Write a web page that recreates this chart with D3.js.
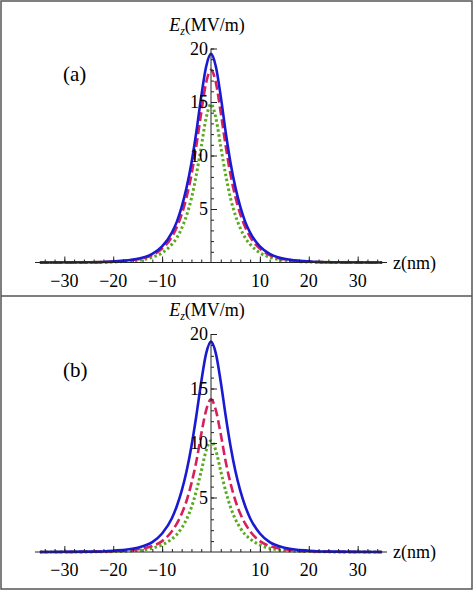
<!DOCTYPE html><html><head><meta charset="utf-8">
<script src="https://cdn.jsdelivr.net/npm/d3@7"></script>
<style>body{margin:0;background:#fff}svg text{font-family:'Liberation Serif','Times New Roman','DejaVu Serif',serif !important}</style></head><body>
<svg id="c" width="474" height="591" font-family="Liberation Serif, DejaVu Serif, serif"></svg>
<script>
const zVals = [-35,-25,-20,-15,-12,-10,-8,-7,-6,-5,-4,-3,-2,-1,0,1,2,3,4,5,6,7,8,10,12,15,20,25,35];
const aBlue  = [0,0.03,0.1,0.35,0.8,1.5,2.8,3.8,5.2,7.0,9.3,12.2,15.5,18.3,19.5,18.3,15.5,12.2,9.3,7.0,5.2,3.8,2.8,1.5,0.8,0.35,0.1,0.03,0];
const aRed   = [0,0.02,0.08,0.3,0.7,1.3,2.4,3.3,4.5,6.1,8.2,10.9,14.0,16.8,18.0,16.8,14.0,10.9,8.2,6.1,4.5,3.3,2.4,1.3,0.7,0.3,0.08,0.02,0];
const aGreen = [0,0.01,0.05,0.2,0.5,0.9,1.7,2.3,3.2,4.4,6.0,8.2,10.8,13.5,14.8,13.5,10.8,8.2,6.0,4.4,3.2,2.3,1.7,0.9,0.5,0.2,0.05,0.01,0];
const bBlue  = [0,0.03,0.12,0.4,0.9,1.7,3.1,4.2,5.6,7.4,9.7,12.5,15.6,18.2,19.3,18.2,15.6,12.5,9.7,7.4,5.6,4.2,3.1,1.7,0.9,0.4,0.12,0.03,0];
const bRed   = [0,0.02,0.07,0.25,0.55,1.0,1.9,2.6,3.5,4.7,6.3,8.3,10.8,13.0,14.0,13.0,10.8,8.3,6.3,4.7,3.5,2.6,1.9,1.0,0.55,0.25,0.07,0.02,0];
const bGreen = [0,0.01,0.04,0.15,0.35,0.65,1.2,1.6,2.2,3.0,4.1,5.6,7.4,9.3,10.2,9.3,7.4,5.6,4.1,3.0,2.2,1.6,1.2,0.65,0.35,0.15,0.04,0.01,0];
const xTicks = [-30,-20,-10,10,20,30];
const yTicks = [5,10,15,20];
const panels = [{label:"(a)", series:[aGreen,aRed,aBlue], top:0, zeroY:262.5, y20:48.5},
                {label:"(b)", series:[bGreen,bRed,bBlue], top:296, zeroY:552, y20:334}];
const styles = [{c:"#5aaa1e",d:"2.5,2.5",w:3},{c:"#d6205c",d:"9,4",w:2.6},{c:"#1a1ad2",d:null,w:2.6}];
const svg = d3.select("#c");
svg.append("rect").attr("x",1).attr("y",1).attr("width",471).attr("height",588).attr("fill","none").attr("stroke","#555").attr("stroke-width",1.5);
svg.append("line").attr("x1",1).attr("x2",472).attr("y1",296).attr("y2",296).attr("stroke","#555").attr("stroke-width",1.5);
const x = d3.scaleLinear().domain([-36,36]).range([35,387]);
panels.forEach(p=>{
  const y = d3.scaleLinear().domain([0,20]).range([p.zeroY,p.y20]);
  const g = svg.append("g");
  const line = d3.line().x((d,i)=>x(zVals[i])).y(d=>y(d)).curve(d3.curveMonotoneX);
  p.series.forEach((s,k)=>{
    g.append("path").attr("d",line(s)).attr("fill","none").attr("stroke",styles[k].c)
      .attr("stroke-width",styles[k].w).attr("stroke-dasharray",styles[k].d);
  });
  const xa = d3.axisTop(x).tickValues(d3.range(-34,35,2).filter(v=>v!==0)).tickSize(3).tickFormat("");
  g.append("g").attr("transform",`translate(0,${y(0)})`).call(xa).call(a=>{a.select(".domain").remove();a.selectAll("line").attr("stroke","#222");});
  const xb = d3.axisTop(x).tickValues(xTicks).tickSize(6).tickFormat("");
  g.append("g").attr("transform",`translate(0,${y(0)})`).call(xb).call(a=>{a.select(".domain").remove();a.selectAll("line").attr("stroke","#222");});
  g.append("line").attr("x1",35).attr("x2",387).attr("y1",y(0)).attr("y2",y(0)).attr("stroke","#222").attr("stroke-width",1);
  xTicks.forEach(t=>g.append("text").attr("x",x(t)).attr("y",y(0)+24).attr("text-anchor","middle").attr("font-size",18)
     .text(t<0?"\u2212"+(-t):t));
  g.append("text").attr("x",393).attr("y",y(0)+6).attr("font-size",18).text("z(nm)");
  const ya = d3.axisRight(y).tickValues(d3.range(1,21)).tickSize(3).tickFormat("");
  g.append("g").attr("transform",`translate(${x(0)},0)`).call(ya).call(a=>{a.select(".domain").remove();a.selectAll("line").attr("stroke","#222");});
  const yb = d3.axisRight(y).tickValues(yTicks).tickSize(6).tickFormat("");
  g.append("g").attr("transform",`translate(${x(0)},0)`).call(yb).call(a=>{a.select(".domain").remove();a.selectAll("line").attr("stroke","#222");});
  g.append("line").attr("x1",x(0)).attr("x2",x(0)).attr("y1",y(0)).attr("y2",y(20)).attr("stroke","#222");
  yTicks.forEach(t=>g.append("text").attr("x",x(0)-3).attr("y",y(t)+6).attr("text-anchor","end").attr("font-size",18).text(t));
  const lab = g.append("text").attr("x",x(0)-4).attr("y",y(20)-18).attr("text-anchor","middle").attr("font-size",18);
  lab.append("tspan").attr("font-style","italic").text("E");
  lab.append("tspan").attr("font-style","italic").attr("font-size",12).attr("dy",4).text("z");
  lab.append("tspan").attr("dy",-4).text("(MV/m)");
  g.append("text").attr("x",63).attr("y",p.top+81).attr("font-size",21).text(p.label);
});
</script></body></html>
